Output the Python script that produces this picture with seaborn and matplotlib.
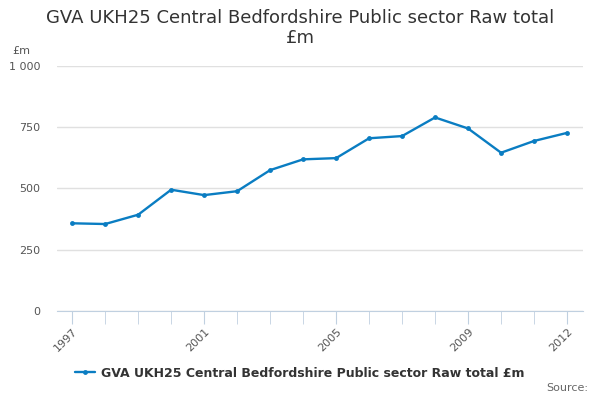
import numpy as np
import pandas as pd
import matplotlib
matplotlib.use("Agg")
import matplotlib.pyplot as plt
import seaborn as sns

years = list(range(1997, 2013))
values = [358, 355, 393, 495, 473, 489, 575, 619, 624, 705, 714, 790, 745, 646, 694, 727]
series_name = "GVA UKH25 Central Bedfordshire Public sector Raw total £m"
tick_years = [1997, 2001, 2005, 2009, 2012]
y_ticks = [0, 250, 500, 750, 1000]
y_labels = ["0", "250", "500", "750", "1 000"]

df = pd.DataFrame({"year": years, "value": values})

sns.set_style("white")
plt.rcParams['font.family'] = ['DejaVu Sans']

fig = plt.figure(figsize=(6, 4), dpi=100)
ax = fig.add_axes([0.095, 0.2225, 0.877, 0.6125])

line_color = "#0a7dc2"
sns.lineplot(data=df, x="year", y="value", ax=ax, color=line_color,
             marker="o", markersize=3.5, markeredgewidth=0, linewidth=1.7,
             label=series_name, legend=False)

ax.set_xlim(1996.54, 2012.49)
ax.set_ylim(0, 1000)
ax.set_yticks(y_ticks)
ax.set_yticklabels(y_labels, color="#555555", fontsize=8)
ax.set_xticks(years, minor=True)
ax.set_xticks(tick_years)
ax.set_xticklabels([str(y) for y in tick_years], rotation=45, ha="right",
                   rotation_mode="anchor", color="#555555", fontsize=8)
ax.tick_params(axis="x", which="both", length=9, color="#c0d0e0", direction="out",
               bottom=True, pad=2)
ax.tick_params(axis="y", length=0, pad=12)
ax.set_xlabel("")
ax.set_ylabel("")
ax.grid(axis="y", color="#e0e0e0", linewidth=1)
for s in ["top", "right", "left"]:
    ax.spines[s].set_visible(False)
ax.spines["bottom"].set_color("#c0d0e0")

fig.text(0.5, 0.93, "GVA UKH25 Central Bedfordshire Public sector Raw total\n£m",
         ha="center", va="center", fontsize=13, color="#333333", linespacing=1.1)
fig.text(0.02, 0.865, "£m", fontsize=8, color="#555555")

handles, labels = ax.get_legend_handles_labels()
leg = fig.legend(handles, labels, loc="center", bbox_to_anchor=(0.5, 0.067),
                 frameon=False, prop={"weight": "bold", "size": 9},
                 handlelength=1.6, handletextpad=0.5)
for t in leg.get_texts():
    t.set_color("#333333")
fig.text(0.98, 0.022, "Source:", ha="right", fontsize=8, color="#666666")

fig.savefig("out.png", dpi=100)
